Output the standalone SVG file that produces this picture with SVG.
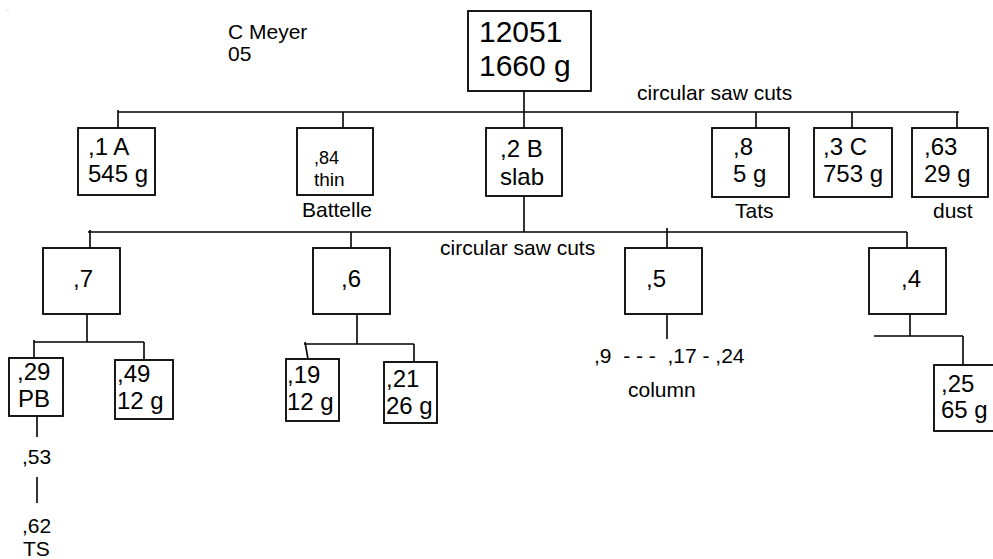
<svg xmlns="http://www.w3.org/2000/svg" width="993" height="559" viewBox="0 0 993 559">
<style>
text{font-family:"Liberation Sans",Arial,sans-serif;fill:#000;white-space:pre}
.b{font-size:24px}
.s{font-size:21px}
.t{font-size:19px}
.r{font-size:30px}
rect{fill:#fff;stroke:#000;stroke-width:1.8}
.c line{stroke:#000;stroke-width:1.6}
</style>
<rect x="0" y="0" width="993" height="559" style="stroke:none"/>
<g id="notes">
<text x="7" y="11" style="font-size:6px">.</text>
<text class="s" x="228" y="39">C Meyer</text>
<text class="s" x="228" y="61">05</text>
<text class="s" x="637" y="100">circular saw cuts</text>
<text class="s" x="440" y="255">circular saw cuts</text>
</g>
<g class="c" id="connectors">
<line x1="524" y1="91" x2="524" y2="128"/>
<line x1="118" y1="112" x2="959" y2="112"/>
<line x1="118" y1="110" x2="118" y2="128"/>
<line x1="343" y1="112" x2="343" y2="128"/>
<line x1="756" y1="112" x2="756" y2="128"/>
<line x1="852" y1="112" x2="852" y2="128"/>
<line x1="957" y1="112" x2="957" y2="128"/>
<line x1="524" y1="196" x2="524" y2="232"/>
<line x1="88" y1="232" x2="907" y2="232"/>
<line x1="90" y1="230" x2="90" y2="248"/>
<line x1="351" y1="232" x2="351" y2="248"/>
<line x1="667" y1="228" x2="667" y2="248"/>
<line x1="907" y1="232" x2="907" y2="248"/>
<line x1="87" y1="314" x2="87" y2="342"/>
<line x1="34" y1="342" x2="144" y2="342"/>
<line x1="34" y1="340" x2="34" y2="358"/>
<line x1="144" y1="342" x2="144" y2="360"/>
<line x1="37" y1="416" x2="37" y2="437"/>
<line x1="37" y1="477" x2="37" y2="503"/>
<line x1="357" y1="314" x2="357" y2="344"/>
<line x1="304" y1="344" x2="414" y2="344"/>
<line x1="305" y1="342" x2="308" y2="359"/>
<line x1="414" y1="344" x2="414" y2="362"/>
<line x1="667" y1="314" x2="667" y2="339"/>
<line x1="910" y1="314" x2="910" y2="336"/>
<line x1="874" y1="336" x2="963" y2="336"/>
<line x1="963" y1="336" x2="963" y2="365"/>
</g>
<g id="n12051">
<rect x="468" y="11" width="123" height="80"/>
<text class="r" x="479" y="42">12051</text>
<text class="r" x="479" y="76">1660 g</text>
</g>
<g id="n1A">
<rect x="78" y="128" width="77" height="67"/>
<text class="b" x="88" y="155">,1 A</text>
<text class="b" x="88" y="182">545 g</text>
</g>
<g id="n84">
<rect x="297" y="128" width="76" height="67"/>
<text x="314" y="164" style="font-size:18px">,84</text>
<text class="t" x="314" y="186">thin</text>
<text class="s" x="302" y="217">Battelle</text>
</g>
<g id="n2B">
<rect x="486" y="128" width="76" height="68"/>
<text class="b" x="500" y="157">,2 B</text>
<text class="b" x="500" y="185">slab</text>
</g>
<g id="n8">
<rect x="712" y="128" width="77" height="69"/>
<text class="b" x="733" y="155">,8</text>
<text class="b" x="733" y="182">5 g</text>
<text class="s" x="735" y="218">Tats</text>
</g>
<g id="n3C">
<rect x="814" y="128" width="78" height="69"/>
<text class="b" x="823" y="155">,3 C</text>
<text class="b" x="823" y="182">753 g</text>
</g>
<g id="n63">
<rect x="912" y="128" width="76" height="69"/>
<text class="b" x="924" y="155">,63</text>
<text class="b" x="924" y="182">29 g</text>
<text class="s" x="933" y="218">dust</text>
</g>
<g id="n7">
<rect x="43" y="248" width="77" height="66"/>
<text class="b" x="73" y="287">,7</text>
</g>
<g id="n6">
<rect x="313" y="248" width="77" height="66"/>
<text class="b" x="341" y="287">,6</text>
</g>
<g id="n5">
<rect x="625" y="248" width="77" height="66"/>
<text class="b" x="646" y="287">,5</text>
<text class="s" x="594" y="363">,9  - - -  ,17 - ,24</text>
<text class="s" x="628" y="397">column</text>
</g>
<g id="n4">
<rect x="869" y="248" width="77" height="66"/>
<text class="b" x="901" y="287">,4</text>
</g>
<g id="n29">
<rect x="9" y="358" width="54" height="58"/>
<text class="b" x="17" y="380">,29</text>
<text class="b" x="18" y="407">PB</text>
<text class="s" x="22" y="464">,53</text>
<text class="s" x="22" y="533">,62</text>
<text class="s" x="23" y="556">TS</text>
</g>
<g id="n49">
<rect x="115" y="360" width="58" height="59"/>
<text class="b" x="117" y="382">,49</text>
<text class="b" x="117" y="409">12 g</text>
</g>
<g id="n19">
<rect x="286" y="359" width="53" height="62"/>
<text class="b" x="287" y="383">,19</text>
<text class="b" x="287" y="410">12 g</text>
</g>
<g id="n21">
<rect x="384" y="362" width="53" height="61"/>
<text class="b" x="386" y="387">,21</text>
<text class="b" x="386" y="414">26 g</text>
</g>
<g id="n25">
<rect x="934" y="365" width="70" height="66"/>
<text class="b" x="941" y="392">,25</text>
<text class="b" x="941" y="418">65 g</text>
</g>
</svg>
